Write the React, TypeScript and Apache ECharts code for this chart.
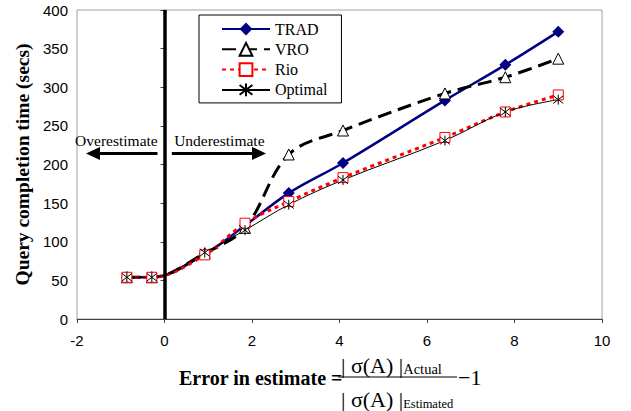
import React, { useEffect, useRef } from 'react';
import * as echarts from 'echarts';

// ---- data ----
const xValues = [-0.86, -0.29, 0.92, 1.84, 2.84, 4.08, 6.41, 7.79, 9.0];
const tradValues = [54, 54, 84, 121, 163, 202, 283, 329, 372];
const vroValues = [54, 54, 85, 118, 213, 244, 292, 313, 337];
const rioValues = [54, 54, 83, 124, 152, 183, 235, 268, 290];
const optimalValues = [54, 54, 86, 115, 148, 180, 231, 268, 284];
const seriesNames = ['TRAD', 'VRO', 'Rio', 'Optimal'];
const xAxisRange = { min: -2, max: 10, interval: 2 };
const yAxisRange = { min: 0, max: 400, interval: 50 };
const yAxisTitle = 'Query completion time (secs)';
const dividerX = 0;
const arrowY = 214.4;
const overArrow = { from: -0.16, to: -1.634 };
const underArrow = { from: 0.1675, to: 2.16 };
const overLabel = { text: 'Overestimate', x: -1.1, y: 231 };
const underLabel = { text: 'Underestimate', x: 1.253, y: 231 };

const zip = (ys: number[]) => xValues.map((x, i) => [x, ys[i]]);

const STAR = 'path://M5,0L5,10M1.2,1.2L8.8,8.8M8.8,1.2L1.2,8.8';
const SERIF = 'Liberation Serif';
const SANS = 'Liberation Sans';

export default function App() {
  const ref = useRef<HTMLDivElement>(null);
  useEffect(() => {
    document.body.style.margin = '0';
    const chart = echarts.init(ref.current!, null, { renderer: 'svg' });
    const smooth = 0.35;
    const option: any = {
      animation: false,
      backgroundColor: '#fff',
      grid: {
        left: 77, right: 29, top: 10, bottom: 92, containLabel: false,
        show: true, borderColor: '#a0a0a0', borderWidth: 1, backgroundColor: 'transparent',
      },
      xAxis: {
        type: 'value',
        min: xAxisRange.min,
        max: xAxisRange.max,
        interval: xAxisRange.interval,
        splitLine: { show: false },
        axisLine: { onZero: false, lineStyle: { color: '#404040', width: 1 } },
        axisTick: { show: true, length: 4, lineStyle: { color: '#404040' } },
        axisLabel: { color: '#000', fontFamily: SANS, fontSize: 15, margin: 14 },
      },
      yAxis: {
        type: 'value',
        min: yAxisRange.min,
        max: yAxisRange.max,
        interval: yAxisRange.interval,
        splitLine: { show: false },
        axisLine: { show: true, lineStyle: { color: '#404040', width: 1 } },
        axisTick: { show: true, length: 4, lineStyle: { color: '#404040' } },
        axisLabel: { color: '#000', fontFamily: SANS, fontSize: 15, margin: 9 },
        name: yAxisTitle,
        nameLocation: 'middle',
        nameGap: 42,
        nameTextStyle: { fontFamily: SERIF, fontWeight: 'bold', fontSize: 19.5, color: '#000' },
      },
      legend: {
        data: seriesNames,
        orient: 'vertical',
        left: 199,
        top: 15,
        padding: [6, 14, 5, 22],
        itemWidth: 48,
        itemHeight: 16,
        itemGap: 4.3,
        itemTextGap: 4,
        borderColor: '#000',
        borderWidth: 1,
        backgroundColor: '#fff',
        textStyle: { fontFamily: SERIF, fontSize: 16, color: '#000', lineHeight: 14 },
      },
      series: [
        {
          name: 'annotations',
          type: 'line',
          data: [],
          silent: true,
          markLine: {
            silent: true,
            animation: false,
            symbol: ['none', 'none'],
            label: { show: false },
            data: [
              [
                { coord: [dividerX, yAxisRange.min], symbol: 'none', lineStyle: { color: '#000', width: 3.5, type: 'solid' } },
                { coord: [dividerX, yAxisRange.max], symbol: 'none' },
              ],
              [
                { coord: [overArrow.from, arrowY], symbol: 'none', lineStyle: { color: '#000', width: 3, type: 'solid' } },
                { coord: [overArrow.to, arrowY], symbol: 'triangle', symbolSize: [13, 14] },
              ],
              [
                { coord: [underArrow.from, arrowY], symbol: 'none', lineStyle: { color: '#000', width: 3, type: 'solid' } },
                { coord: [underArrow.to, arrowY], symbol: 'triangle', symbolSize: [13, 14] },
              ],
            ],
          },
          markPoint: {
            silent: true,
            symbol: 'circle',
            symbolSize: 0,
            label: { show: true, position: 'inside', color: '#000', fontFamily: SERIF, fontSize: 15.5 },
            data: [
              { coord: [overLabel.x, overLabel.y], value: overLabel.text, label: { formatter: overLabel.text } },
              { coord: [underLabel.x, underLabel.y], value: underLabel.text, label: { formatter: underLabel.text } },
            ],
          },
        },
        {
          name: 'TRAD',
          type: 'line',
          data: zip(tradValues),
          smooth,
          symbol: 'diamond',
          symbolSize: 12,
          itemStyle: { color: '#000080' },
          lineStyle: { color: '#000080', width: 2.5 },
        },
        {
          name: 'VRO',
          type: 'line',
          data: zip(vroValues),
          smooth,
          symbol: 'triangle',
          symbolSize: 11,
          itemStyle: { color: '#fff', borderColor: '#000', borderWidth: 1 },
          lineStyle: { color: '#000', width: 3, type: [14, 7] },
        },
        {
          name: 'Rio',
          type: 'line',
          data: zip(rioValues),
          smooth,
          symbol: 'rect',
          symbolSize: 10,
          itemStyle: { color: '#fff', borderColor: '#ff0000', borderWidth: 1 },
          lineStyle: { color: '#ff0000', width: 3, type: [4, 4] },
        },
        {
          name: 'Optimal',
          type: 'line',
          data: zip(optimalValues),
          smooth,
          symbol: STAR,
          symbolSize: 10,
          itemStyle: { color: '#000', borderColor: '#000', borderWidth: 1 },
          lineStyle: { color: '#000', width: 1 },
        },
      ],
      graphic: [
        {
          type: 'text',
          left: 179,
          top: 368,
          style: { text: 'Error in estimate =', fontFamily: SERIF, fontWeight: 'bold', fontSize: 20, fill: '#000' },
        },
        {
          type: 'text',
          x: 341,
          y: 365,
          style: {
            text: '{m|| σ(A) |}{s|Actual}',
            verticalAlign: 'middle',
            rich: {
              m: { fontFamily: SERIF, fontSize: 22, fill: '#000', verticalAlign: 'bottom' },
              s: { fontFamily: SERIF, fontSize: 14.5, fill: '#000', verticalAlign: 'bottom' },
            },
          },
        },
        {
          type: 'line',
          shape: { x1: 338, y1: 377, x2: 457, y2: 377 },
          style: { stroke: '#000', lineWidth: 1 },
        },
        {
          type: 'text',
          x: 341,
          y: 399,
          style: {
            text: '{m|| σ(A) |}{s|Estimated}',
            verticalAlign: 'middle',
            rich: {
              m: { fontFamily: SERIF, fontSize: 22, fill: '#000', verticalAlign: 'bottom' },
              s: { fontFamily: SERIF, fontSize: 12.5, fill: '#000', verticalAlign: 'bottom' },
            },
          },
        },
        {
          type: 'text',
          x: 458,
          y: 377,
          style: { text: '−1', verticalAlign: 'middle', fontFamily: SERIF, fontSize: 22, fill: '#000' },
        },
      ],
    };
    chart.setOption(option);
    return () => chart.dispose();
  }, []);
  return <div ref={ref} style={{ width: 631, height: 411 }} />;
}
